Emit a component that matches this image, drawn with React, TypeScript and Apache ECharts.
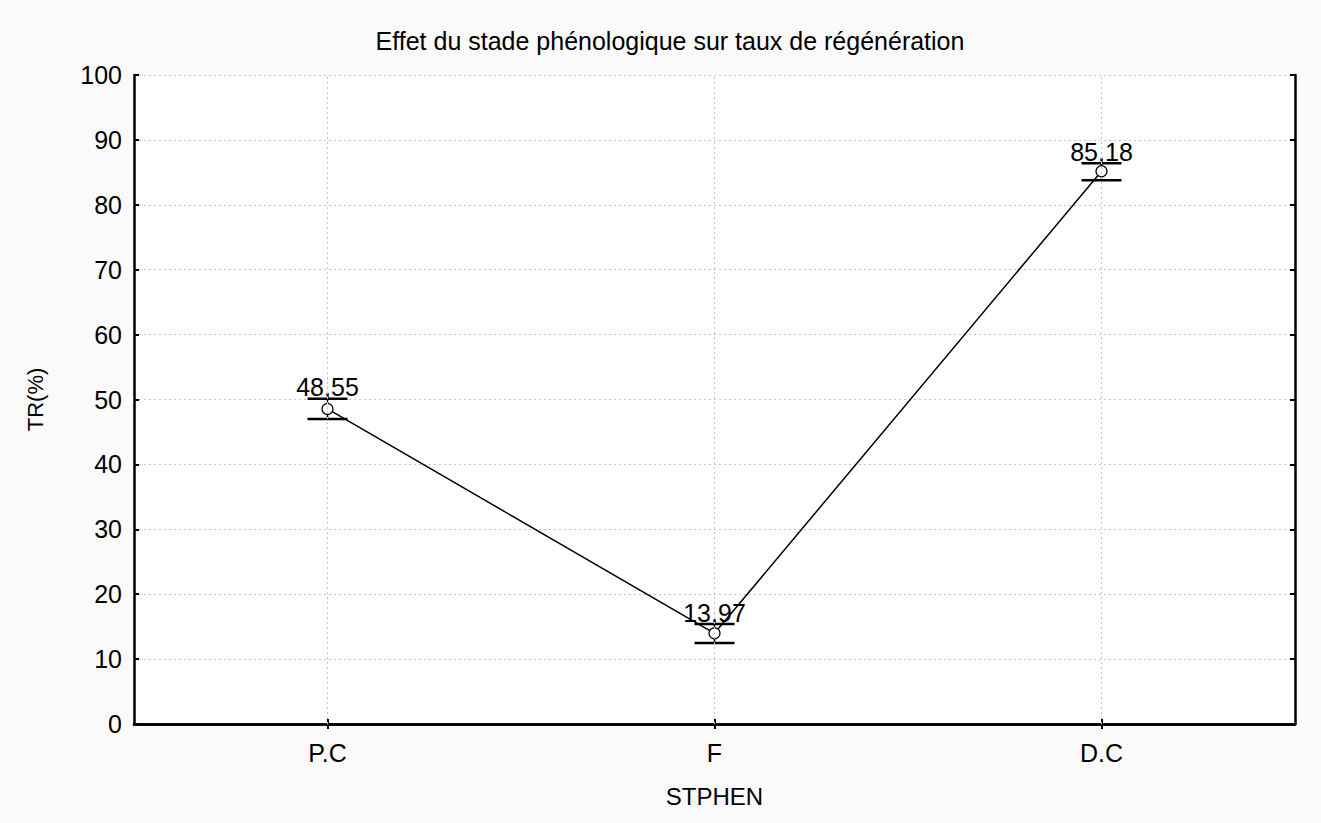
import React, { useEffect, useRef } from "react";
import * as echarts from "echarts";

const categories = ["P.C", "F", "D.C"];
const means = [48.55, 13.97, 85.18];
const errUpper = [50.1, 15.4, 86.4];
const errLower = [47.0, 12.5, 83.8];
const yTicks = { min: 0, max: 100, interval: 10 };
const titleText = "Effet du stade phénologique sur taux de régénération";
const xName = "STPHEN";
const yName = "TR(%)";

const FONT = "'Liberation Sans', Arial, sans-serif";

export default function App() {
  const ref = useRef<HTMLDivElement>(null);
  useEffect(() => {
    document.body.style.margin = "0";
    const chart = echarts.init(ref.current!, null, { renderer: "svg" });
    const errData = categories.map((c, i) => [i, errLower[i], errUpper[i], means[i]]);
    const gridLine = { show: true, lineStyle: { color: "#c4c4c4", type: [2, 3], width: 1 } };
    chart.setOption({
      animation: false,
      backgroundColor: "#fafafa",
      textStyle: { fontFamily: FONT },
      title: {
        text: titleText,
        left: 665,
        textAlign: "center",
        top: 23,
        textStyle: { fontFamily: FONT, fontSize: 25, fontWeight: "normal", color: "#000" },
      },
      grid: {
        left: 134,
        right: 26,
        top: 75,
        bottom: 99,
        show: true,
        backgroundColor: "#ffffff",
        borderColor: "#000",
        borderWidth: 0,
      },
      xAxis: [
        {
          type: "category",
          data: categories,
          boundaryGap: true,
          position: "bottom",
          name: xName,
          nameLocation: "middle",
          nameGap: 60,
          nameTextStyle: { fontFamily: FONT, fontSize: 24, color: "#000" },
          axisLine: { show: true, lineStyle: { color: "#000", width: 2.5 } },
          axisTick: { show: true, inside: true, alignWithLabel: true, length: 5, lineStyle: { color: "#000", width: 2 } },
          axisLabel: { fontFamily: FONT, fontSize: 25, color: "#000", margin: 16 },
          splitLine: { show: false },
        },
        {
          type: "category",
          data: categories,
          boundaryGap: true,
          position: "top",
          axisLine: { show: true, lineStyle: { color: "#000", width: 2.5 } },
          axisTick: { show: true, inside: true, alignWithLabel: true, length: 5, lineStyle: { color: "#000", width: 2 } },
          axisLabel: { show: false },
          splitLine: { show: false },
        },
      ],
      yAxis: [
        {
          type: "value",
          min: yTicks.min,
          max: yTicks.max,
          interval: yTicks.interval,
          position: "left",
          name: yName,
          nameLocation: "middle",
          nameGap: 88,
          nameTextStyle: { fontFamily: FONT, fontSize: 22, color: "#000" },
          axisLine: { show: true, lineStyle: { color: "#000", width: 2.5 } },
          axisTick: { show: true, inside: true, length: 5, lineStyle: { color: "#000", width: 2 } },
          axisLabel: { fontFamily: FONT, fontSize: 25, color: "#000", margin: 12 },
          splitLine: gridLine,
        },
        {
          type: "value",
          min: yTicks.min,
          max: yTicks.max,
          interval: yTicks.interval,
          position: "right",
          axisLine: { show: true, lineStyle: { color: "#000", width: 2.5 } },
          axisTick: { show: true, inside: true, length: 5, lineStyle: { color: "#000", width: 2 } },
          axisLabel: { show: false },
          splitLine: { show: false },
        },
      ],
      series: [
        {
          type: "custom",
          name: "err",
          xAxisIndex: 0,
          yAxisIndex: 0,
          z: 1,
          data: errData,
          markLine: {
            silent: true,
            symbol: "none",
            label: { show: false },
            lineStyle: { color: "#c4c4c4", type: [2, 3], width: 1 },
            data: categories.map((c) => ({ xAxis: c })),
          },
          renderItem: (params: any, api: any) => {
            const x = api.value(0);
            const lo = api.coord([x, api.value(1)]);
            const hi = api.coord([x, api.value(2)]);
            const m = api.value(3);
            const half = 20;
            const lbl = String(m.toFixed(2)).replace(".", ",");
            return {
              type: "group",
              children: [
                { type: "line", shape: { x1: lo[0], y1: lo[1], x2: hi[0], y2: hi[1] }, style: { stroke: "#000", lineWidth: 1.5 } },
                { type: "line", shape: { x1: hi[0] - half, y1: hi[1], x2: hi[0] + half, y2: hi[1] }, style: { stroke: "#000", lineWidth: 2.5 } },
                { type: "line", shape: { x1: lo[0] - half, y1: lo[1], x2: lo[0] + half, y2: lo[1] }, style: { stroke: "#000", lineWidth: 2.5 } },
                {
                  type: "text",
                  x: hi[0],
                  y: hi[1] + 1,
                  style: { text: lbl, fill: "#000", font: `25px ${FONT}`, align: "center", verticalAlign: "bottom" },
                },
              ],
            };
          },
        },
        {
          type: "line",
          name: "TR",
          xAxisIndex: 0,
          yAxisIndex: 0,
          z: 3,
          data: means,
          symbol: "circle",
          symbolSize: 11,
          itemStyle: { color: "#fff", borderColor: "#000", borderWidth: 1.2 },
          lineStyle: { color: "#000", width: 1.5 },
          label: { show: false },
        },
      ],
    });
    return () => chart.dispose();
  }, []);
  return <div ref={ref} style={{ position: "fixed", left: 0, top: 0, width: 1321, height: 823 }} />;
}
